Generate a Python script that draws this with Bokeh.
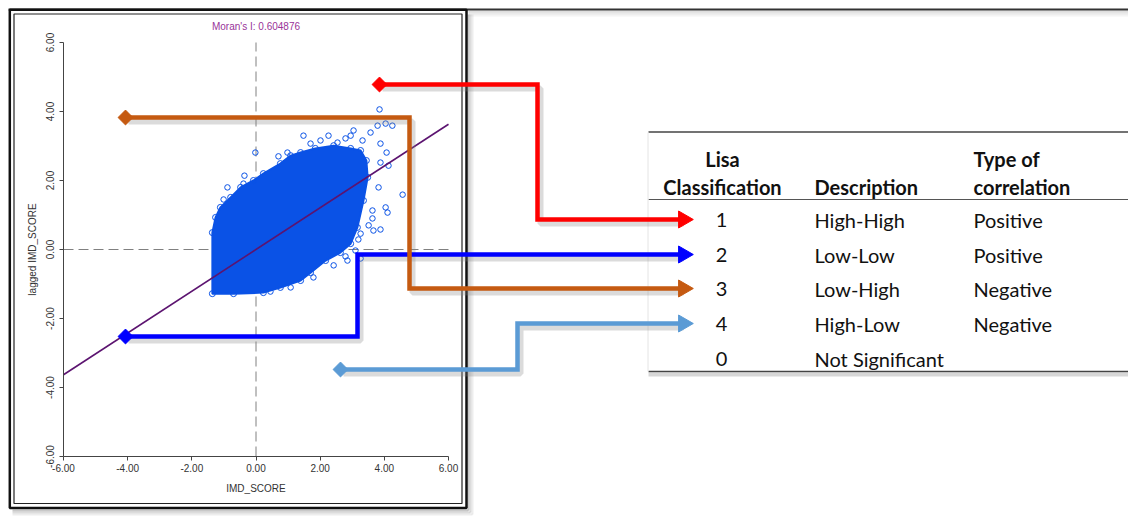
import numpy as np
from bokeh.plotting import figure
from bokeh.models import Range1d, FixedTicker, NumeralTickFormatter
from bokeh.core.properties import value
from bokeh.embed import file_html
from bokeh.resources import INLINE

# ------------------------------------------------------------------ data
morans_i = 0.604876
axis_ticks = [-6, -4, -2, 0, 2, 4, 6]
x_label = "IMD_SCORE"
y_label = "lagged IMD_SCORE"

# outline of the dense core of the Moran scatter (IMD_SCORE, lagged IMD_SCORE)
core_x = [-1.36, -1.36, -1.26, -1.11, -0.79, -0.48, -0.08, 0.23, 0.76, 1.08,
          1.39, 1.85, 2.42, 2.95, 3.26, 3.44, 3.48, 3.35, 3.16, 2.95,
          2.63, 2.17, 1.70, 1.39, 0.76, 0.23, -0.70]
core_y = [-1.28, 0.49, 0.93, 1.22, 1.51, 1.80, 2.00, 2.20, 2.49, 2.72,
          2.81, 2.93, 3.01, 2.93, 2.87, 2.58, 2.09, 1.42, 0.64, 0.17,
          -0.09, -0.32, -0.67, -0.90, -1.10, -1.25, -1.28]

# scattered points outside the dense core
out_x = [3.85, 4.25, 4.04, 3.79, 3.57, 3.04, 2.95, 2.26, 2.54, 3.88,
         4.07, 3.88, 4.13, 3.82, 4.57, 4.04, 4.10, 3.63, 3.63, 3.88,
         3.66, 3.51, 3.26, 3.19, 1.48, -0.02, 0.70, 0.98, -1.01, -0.89,
         -1.11, -0.36, -0.39, -0.64, 1.79, 2.42, 2.85, 3.26, 1.08, 0.45,
         2.79, 3.10, 1.70, 2.01, 2.79, 3.32]
out_y = [4.06, 3.59, 3.65, 3.59, 3.39, 3.45, 3.30, 3.30, 3.10, 3.07,
         2.81, 2.52, 2.43, 1.80, 1.59, 1.22, 1.07, 1.13, 0.90, 0.58,
         0.55, 0.70, 0.46, 0.29, 3.30, 2.81, 2.70, 2.81, 1.45, 1.80,
         0.99, 2.14, 1.91, 1.48, -0.81, -0.46, -0.32, -0.26, -1.10, -1.22,
         -0.20, -0.03, 3.07, 3.16, 3.22, 3.16]

lisa_class = ["1", "2", "3", "4", "0"]
lisa_desc = ["High-High", "Low-Low", "Low-High", "High-Low", "Not Significant"]
lisa_corr = ["Positive", "Positive", "Negative", "Negative", ""]
header_class = ["Lisa", "Classification"]
header_desc = ["Description"]
header_corr = ["Type of", "correlation"]

# ------------------------------------------------------------------ layout (page pixels)
W, H = 1128, 517
PX_X = 385 / 12.0          # pixels per IMD unit
PX_Y = 414 / 12.0
X0 = -6 - 63 / PX_X
Y1 = 6 + 42 / PX_Y


def X(px):
    return X0 + px / PX_X


def Y(py):
    return Y1 - py / PX_Y


def XS(v):
    return [X(a) for a in v]


def YS(v):
    return [Y(a) for a in v]


p = figure(width=W, height=H,
           x_range=Range1d(X0, X0 + W / PX_X),
           y_range=Range1d(Y1 - H / PX_Y, Y1),
           output_backend="svg", toolbar_location=None,
           min_border=0, outline_line_color=None,
           background_fill_color="white", border_fill_color="white")
p.xgrid.visible = False
p.ygrid.visible = False

FONT = "Liberation Sans"
for ax in (p.xaxis[0], p.yaxis[0]):
    ax.fixed_location = -6
    ax.bounds = (-6, 6)
    ax.ticker = FixedTicker(ticks=axis_ticks, minor_ticks=[])
    ax.formatter = NumeralTickFormatter(format="0.00")
    ax.major_tick_in = 0
    ax.major_tick_out = 4
    ax.minor_tick_in = 0
    ax.minor_tick_out = 0
    ax.axis_line_color = "#444444"
    ax.major_tick_line_color = "#444444"
    ax.major_label_text_font = FONT
    ax.major_label_text_font_size = "10px"
    ax.major_label_text_color = "#333333"
    ax.axis_label_text_font = FONT
    ax.axis_label_text_font_size = "10px"
    ax.axis_label_text_font_style = "normal"
    ax.axis_label_text_color = "#333333"
    ax.major_label_standoff = 3
    ax.axis_label_standoff = 8
p.xaxis[0].axis_label = x_label
p.yaxis[0].axis_label = y_label
p.yaxis[0].major_label_orientation = "vertical"
p.yaxis[0].major_label_standoff = 6
p.yaxis[0].axis_label_standoff = 5

# ---- frame of the scatter panel
shadow = "#9a9a9a"
for off, a in ((2, 0.55), (4, 0.35), (6, 0.18)):
    p.line(XS([466 + off, 466 + off]), YS([14, 508 + off]), line_color=shadow, line_alpha=a, line_width=2)
    p.line(XS([12, 466 + off]), YS([508 + off, 508 + off]), line_color=shadow, line_alpha=a, line_width=2)
    p.line(XS([468, 1128]), YS([9 + off, 9 + off]), line_color=shadow, line_alpha=a * 0.6, line_width=2)
p.line(XS([8, 1128]), YS([9, 9]), line_color="#333333", line_width=2)
p.quad(left=[X(9.3)], right=[X(466)], top=[Y(9.3)], bottom=[Y(507.5)],
       fill_color=None, line_color="#111111", line_width=2.5)
p.quad(left=[X(13.5)], right=[X(461.5)], top=[Y(13.5)], bottom=[Y(503)],
       fill_color=None, line_color="#222222", line_width=1.2)

# ---- crosshair at the means
p.line([0, 0], [-6, 6], line_color="#808080", line_width=1, line_dash="10 5")
p.line([-6, 6], [0, 0], line_color="#808080", line_width=1, line_dash="10 5")

# ---- scatter
blue = "#0a52e6"
p.patch(core_x, core_y, fill_color=blue, line_color=blue, line_width=2)
p.scatter(core_x, core_y, size=6, fill_color=None, line_color=blue, line_width=1)
p.scatter(out_x, out_y, size=5.5, fill_color=None, line_color=blue, line_width=1)

# ---- Moran regression line
p.line([-6, 6], [-6 * morans_i, 6 * morans_i], line_color="#5c1470", line_width=1.6)

p.text(x=[0], y=[Y(25.5)], text=[f"Moran's I: {morans_i}"], text_align="center",
       text_baseline="middle", text_font=value(FONT), text_font_size="10px",
       text_color="#993399")

# ---- table
TFONT = "Lato"
row_y = [219, 254, 288, 323, 358]
p.line(XS([648, 1128]), YS([131.5, 131.5]), line_color="#444444", line_width=1.5)
p.line(XS([648, 1128]), YS([199, 199]), line_color="#555555", line_width=1.2)
p.line(XS([648, 1128]), YS([374, 374]), line_color=shadow, line_alpha=0.4, line_width=4)
p.line(XS([648, 1128]), YS([371, 371]), line_color="#444444", line_width=1.5)
p.line(XS([647.5, 647.5]), YS([132, 371]), line_color="#e4e4e4", line_width=1)

hdr = dict(text_font=value(TFONT), text_font_size="20px", text_font_style="bold",
           text_color="#111111", text_baseline="middle")
p.text(x=[X(722)] * 2, y=YS([158, 186]), text=header_class, text_align="center", **hdr)
p.text(x=[X(814)], y=YS([186]), text=header_desc, text_align="left", **hdr)
p.text(x=[X(973)] * 2, y=YS([158, 186]), text=header_corr, text_align="left", **hdr)

cell = dict(text_font=value(TFONT), text_font_size="20px", text_color="#111111",
            text_baseline="middle")
p.text(x=[X(721)] * 5, y=YS(row_y), text=lisa_class, text_align="center", **cell)
p.text(x=[X(814)] * 5, y=YS(row_y), text=lisa_desc, text_align="left", **cell)
p.text(x=[X(973)] * 5, y=YS(row_y), text=lisa_corr, text_align="left", **cell)

# ---- connector arrows (diamond anchor in scatter -> table row)
arrow_colors = ["#ff0000", "#0000ff", "#c55a11", "#5b9bd5"]
arrow_paths = [
    ([379, 537, 537, 680], [84, 84, 219, 219]),
    ([125, 357, 357, 680], [336, 336, 254, 254]),
    ([125, 409, 409, 680], [117, 117, 288, 288]),
    ([340, 517, 517, 680], [369, 369, 323, 323]),
]
for (px, py), c in zip(arrow_paths, arrow_colors):
    p.line(XS([a + 3 for a in px]), YS([b + 4 for b in py]), line_color="#888888",
           line_alpha=0.3, line_width=6)
for (px, py), c in zip(arrow_paths, arrow_colors):
    p.line(XS(px), YS(py), line_color=c, line_width=4.5, line_join="miter")
    p.scatter([X(px[0])], [Y(py[0])], marker="square", angle=np.pi / 4, size=10.5,
              fill_color=c, line_color=c)
    p.scatter([X(683)], [Y(py[-1])], marker="triangle", angle=-np.pi / 2, size=17,
              fill_color=c, line_color=c)

open("out.html", "w").write(file_html(p, INLINE))
